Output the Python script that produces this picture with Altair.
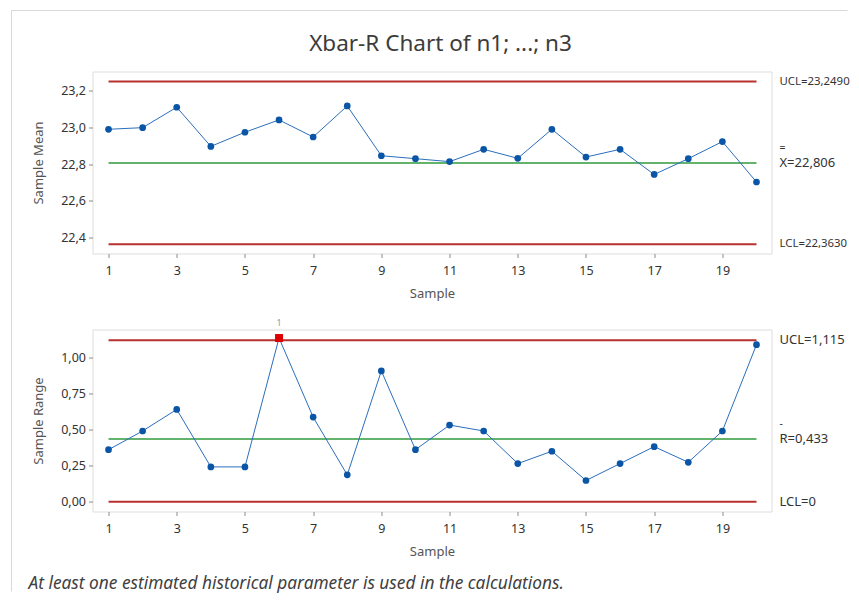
import altair as alt
import pandas as pd

# ---------------- data ----------------
samples = list(range(1, 21))
sample_means = [22.989, 22.998, 23.109, 22.896, 22.973, 23.040, 22.947, 23.116, 22.845, 22.829,
                22.813, 22.880, 22.831, 22.989, 22.838, 22.880, 22.743, 22.829, 22.922, 22.702]
sample_ranges = [0.360, 0.489, 0.638, 0.241, 0.241, 1.131, 0.585, 0.186, 0.904, 0.360,
                 0.530, 0.489, 0.264, 0.349, 0.147, 0.264, 0.381, 0.273, 0.489, 1.085]
xbar_limits = {"UCL": 23.2490, "CL": 22.806, "LCL": 22.3630}
r_limits = {"UCL": 1.115, "CL": 0.433, "LCL": 0.0}
xbar_labels = ["UCL=23,2490", "X=22,806", "LCL=22,3630"]
r_labels = ["UCL=1,115", "R=0,433", "LCL=0"]
x_ticks = [1, 3, 5, 7, 9, 11, 13, 15, 17, 19]
title_text = "Xbar-R Chart of n1; ...; n3"
footer_text = "At least one estimated historical parameter is used in the calculations."

W, H = 679, 182
FONT = "Noto Sans"
RED = "#b7312f"
GREEN = "#2f9a3c"
LINE_BLUE = "#2a6ebb"
PT_BLUE = "#0a55a5"

xscale = alt.Scale(domain=[0.53, 20.44], nice=False, zero=False)


def x_axis():
    return alt.Axis(values=x_ticks, title="Sample", tickSize=4, labelPadding=6.5, titlePadding=11,
                    labelFontSize=12.5, titleFontSize=13, domain=False, grid=False,
                    tickColor="#8a8a8a", labelColor="#333333", titleColor="#555555",
                    titleFontWeight="normal", labelFont=FONT, titleFont=FONT)


def y_axis(title, fmt, vals):
    return alt.Axis(title=title, values=vals, tickSize=4, labelPadding=3, titlePadding=15,
                    labelExpr=f"replace(format(datum.value, '{fmt}'), '.', ',')",
                    labelFontSize=12.5, titleFontSize=13, domain=False, grid=False,
                    tickColor="#8a8a8a", labelColor="#333333", titleColor="#555555",
                    titleFontWeight="normal", labelFont=FONT, titleFont=FONT)


def panel(values, limits, labels, label_sizes, ytitle, ydomain, yvalues, fmt, bar_symbol):
    yscale = alt.Scale(domain=ydomain, nice=False, zero=False)
    xa = x_axis()
    ya = y_axis(ytitle, fmt, yvalues)
    df = pd.DataFrame({"sample": samples, "value": values})
    X = alt.X("sample:Q", scale=xscale, axis=xa)
    Y = alt.Y("value:Q", scale=yscale, axis=ya)

    lim = pd.DataFrame({
        "sample": [1, 1, 1], "sample2": [20, 20, 20],
        "value": [limits["UCL"], limits["CL"], limits["LCL"]],
        "kind": ["UCL", "CL", "LCL"], "w": [2, 1.5, 2],
        "label": labels, "fs": label_sizes,
    })
    rules = alt.Chart(lim).mark_rule().encode(
        x=X, x2="sample2:Q", y=Y,
        color=alt.Color("kind:N", scale=alt.Scale(domain=["UCL", "CL", "LCL"], range=[RED, GREEN, RED]), legend=None),
        strokeWidth=alt.StrokeWidth("w:Q", scale=None),
    )
    line = alt.Chart(df).mark_line(color=LINE_BLUE, strokeWidth=1).encode(x=X, y=Y)
    pts = alt.Chart(df).mark_circle(color=PT_BLUE, size=45, opacity=1).encode(x=X, y=Y)
    texts = alt.Chart(lim).mark_text(align="left", baseline="middle", font=FONT,
                                     color="#333333").encode(
        x=alt.value(W + 8), y=Y, text="label:N", size=alt.Size("fs:Q", scale=None))
    bar_df = pd.DataFrame({"value": [limits["CL"]], "sym": [bar_symbol]})
    bar = alt.Chart(bar_df).mark_text(align="left", baseline="middle", fontSize=10.5, font=FONT,
                                      color="#333333", dy=-15).encode(
        x=alt.value(W + 8), y=Y, text="sym:N")
    return [rules, line, pts, texts, bar], X, Y, df


# ---------- top panel ----------
top_layers, Xt, Yt, df_top = panel(sample_means, xbar_limits, xbar_labels, [11.4, 13, 11.4], "Sample Mean",
                                   [22.3127, 23.3037], [22.4, 22.6, 22.8, 23.0, 23.2], ".1f", "=")
one = pd.DataFrame({"a": [0]})
frame_top = alt.Chart(one).mark_rule(color="#d9d9d9", strokeWidth=1).encode(
    x=alt.value(-81), x2=alt.value(755), y=alt.value(-61))
frame_left = alt.Chart(one).mark_rule(color="#d9d9d9", strokeWidth=1).encode(
    x=alt.value(-81), y=alt.value(-61), y2=alt.value(520))
title = alt.Chart(pd.DataFrame({"t": [title_text]})).mark_text(
    align="center", baseline="middle", fontSize=22.5, font=FONT, color="#3c3c3c").encode(
    x=alt.value(348), y=alt.value(-28), text="t:N")
top = alt.layer(frame_top, frame_left, title, *top_layers).properties(width=W, height=H)

# ---------- bottom panel ----------
bot_layers, Xb, Yb, df_bot = panel(sample_ranges, r_limits, r_labels, [13, 13, 13], "Sample Range",
                                   [-0.067, 1.19], [0.0, 0.25, 0.5, 0.75, 1.0], ".2f", "-")
flag_df = df_bot[df_bot["value"] > r_limits["UCL"]].assign(flag="1")
flag = alt.Chart(flag_df).mark_square(color="#e00000", size=64, opacity=1).encode(x=Xb, y=Yb)
flag_txt = alt.Chart(flag_df).mark_text(fontSize=9, font=FONT, color="#999999", dy=-15,
                                        baseline="middle").encode(x=Xb, y=Yb, text="flag:N")
footer = alt.Chart(pd.DataFrame({"t": [footer_text]})).mark_text(
    align="left", baseline="middle", fontSize=17.3, font=FONT, fontStyle="italic", color="#404040").encode(
    x=alt.value(-64), y=alt.value(254), text="t:N")
bottom = alt.layer(*bot_layers, flag, flag_txt, footer).properties(width=W, height=H)

chart = alt.vconcat(top, bottom, spacing=76, bounds="flush").properties(
    padding={"left": 2.5, "top": 1.5, "right": 0, "bottom": 0}
).configure_view(stroke="#a0a0a0", strokeWidth=1).configure(font=FONT, background="white")

chart.save("out.html", embed_options={"renderer": "svg", "actions": False})
